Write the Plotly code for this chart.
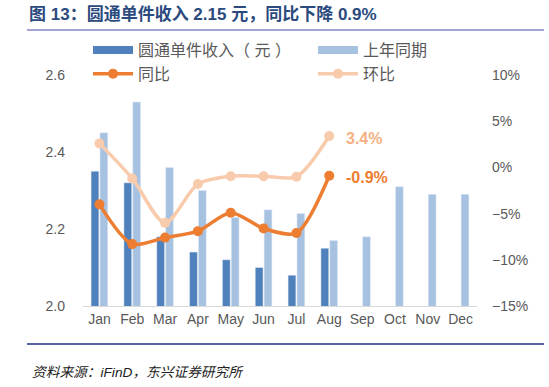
import plotly.graph_objects as go

months = ["Jan", "Feb", "Mar", "Apr", "May", "Jun", "Jul", "Aug", "Sep", "Oct", "Nov", "Dec"]
income = [2.35, 2.32, 2.18, 2.14, 2.12, 2.10, 2.08, 2.15, None, None, None, None]
last_year = [2.45, 2.53, 2.36, 2.30, 2.23, 2.25, 2.24, 2.17, 2.18, 2.31, 2.29, 2.29]
yoy = [-4.0, -8.3, -7.6, -6.9, -4.9, -6.6, -7.1, -0.9, None, None, None, None]
mom = [2.6, -1.2, -6.0, -1.8, -0.95, -0.95, -1.0, 3.4, None, None, None, None]

FONT = "Liberation Sans, Arial, Noto Sans CJK SC"
C_DARK = "#4F81BD"
C_LIGHT = "#A7C2E0"
C_ORANGE = "#ED7D31"
C_PEACH = "#F8CBAD"

W, H = 549, 387
pl, pr, pt, pb = 83, 72, 75, 81
pw, ph = W - pl - pr, H - pt - pb
def px(x):
    return (x - pl) / pw
def py(y):
    return 1 - (y - pt) / ph

fig = go.Figure()
fig.add_trace(go.Bar(x=months, y=income, name="圆通单件收入（元）", marker_color=C_DARK, yaxis="y",
                     showlegend=False))
fig.add_trace(go.Bar(x=months, y=last_year, name="上年同期", marker_color=C_LIGHT, yaxis="y",
                     showlegend=False))
fig.add_trace(go.Scatter(x=months, y=yoy, name="同比", yaxis="y2", mode="lines+markers", legend="legend",
                         line=dict(color=C_ORANGE, width=3.5, shape="spline", smoothing=0.8),
                         marker=dict(size=10, color=C_ORANGE)))
fig.add_trace(go.Scatter(x=months, y=mom, name="环比", yaxis="y2", mode="lines+markers", legend="legend2",
                         line=dict(color=C_PEACH, width=3.5, shape="spline", smoothing=0.8),
                         marker=dict(size=10, color=C_PEACH)))
# legend keys for bars drawn as wide rectangles (legend-only entries)
fig.add_trace(go.Scatter(x=[months[0]], y=[None], name="圆通单件收入（ 元 ）", mode="lines", legend="legend",
                         line=dict(color=C_DARK, width=8), legendrank=1))
fig.add_trace(go.Scatter(x=[months[0]], y=[None], name="上年同期", mode="lines", legend="legend2",
                         line=dict(color=C_LIGHT, width=8), legendrank=1))

fig.add_annotation(x=months[7], y=mom[7], xref="x", yref="y2", text="<b>%.1f%%</b>" % mom[7],
                   showarrow=False, xanchor="left", xshift=15, yshift=-3,
                   font=dict(family=FONT, size=16, color="#F4B183"))
fig.add_annotation(x=months[7], y=yoy[7], xref="x", yref="y2", text="<b>%.1f%%</b>" % yoy[7],
                   showarrow=False, xanchor="left", xshift=15, yshift=-2,
                   font=dict(family=FONT, size=16, color=C_ORANGE))

fig.add_annotation(x=px(27), y=py(15), xref="paper", yref="paper",
                   text="<b>图 13：圆通单件收入 2.15 元，同比下降 0.9%</b>",
                   showarrow=False, xanchor="left", yanchor="middle",
                   font=dict(family=FONT, size=17, color="#2B4A7E"))
fig.add_annotation(x=px(30), y=py(372), xref="paper", yref="paper",
                   text="<i>资料来源：iFinD，东兴证券研究所</i>", showarrow=False,
                   xanchor="left", yanchor="middle", font=dict(family=FONT, size=13.7, color="#222222"))

leg_common = dict(orientation="v", yanchor="top", xanchor="left", traceorder="normal",
                  font=dict(family=FONT, size=16, color="#595959"), itemwidth=40,
                  bgcolor="rgba(0,0,0,0)", tracegroupgap=0)

fig.update_layout(
    width=W, height=H,
    margin=dict(l=pl, r=pr, t=pt, b=pb, autoexpand=False),
    paper_bgcolor="white", plot_bgcolor="white",
    barmode="group", bargap=0.46, bargroupgap=0.12,
    font=dict(family=FONT, size=14, color="#595959"),
    showlegend=True,
    legend=dict(x=px(88), y=py(33), **leg_common),
    legend2=dict(x=px(313), y=py(33), **leg_common),
    xaxis=dict(showgrid=False, showline=True, linecolor="#D9D9D9", linewidth=1, ticks="",
               range=[-0.5, 11.5], autorange=False, automargin=False,
               tickfont=dict(size=14, color="#595959")),
    yaxis=dict(range=[2.0, 2.6], dtick=0.2, tickformat=".1f", showgrid=False, zeroline=False,
               automargin=False, showline=False, ticklabelstandoff=17,
               tickfont=dict(size=14, color="#595959")),
    yaxis2=dict(range=[-15, 10], dtick=5, ticksuffix="%", overlaying="y", side="right",
                automargin=False, showgrid=False, zeroline=False, showline=False, ticklabelstandoff=14,
                tickfont=dict(size=14, color="#595959")),
)

fig.add_shape(type="line", xref="paper", yref="paper", x0=px(27), x1=px(544), y0=py(30), y1=py(30),
              line=dict(color="#A3A3D6", width=2))
fig.add_shape(type="line", xref="paper", yref="paper", x0=px(27), x1=px(544), y0=py(344), y1=py(344),
              line=dict(color="#1F2F8F", width=1.5))

fig.write_html("out.html")
